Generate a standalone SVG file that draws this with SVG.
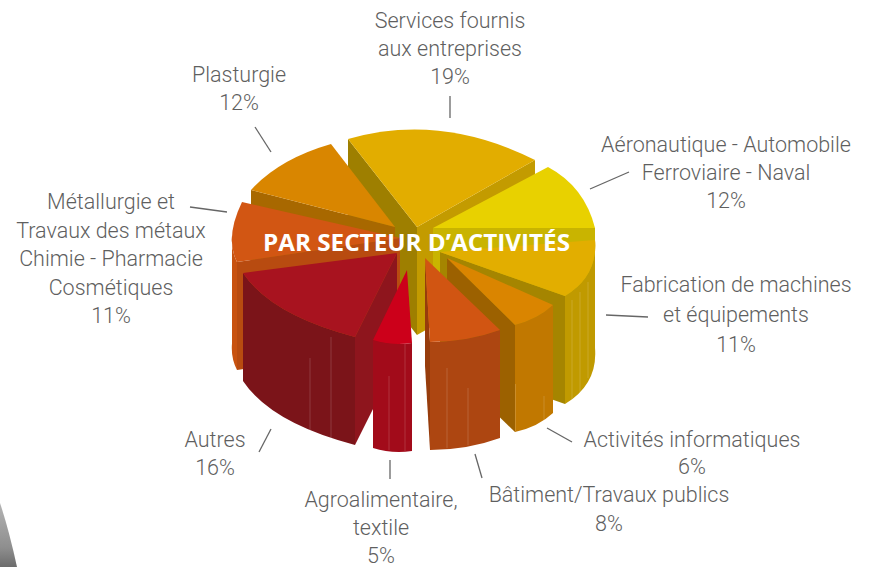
<svg xmlns="http://www.w3.org/2000/svg" width="871" height="567" viewBox="0 0 871 567">
<defs>
<linearGradient id="grey" x1="0" y1="0" x2="0" y2="1">
<stop offset="0" stop-color="#b4b4b4"/>
<stop offset="0.7" stop-color="#8e8e8e"/>
<stop offset="1" stop-color="#6c6c6c"/>
</linearGradient>
<style>
.lbl{font-family:Roboto,"Noto Sans","Liberation Sans",sans-serif;font-weight:300;font-size:21.5px;fill:#5f5f5f;text-anchor:middle}
.lead{stroke:#666;stroke-width:1.3;fill:none}
.str{stroke:#fff;stroke-opacity:0.16;stroke-width:1}
.title{font-family:"Open Sans","Liberation Sans",sans-serif;font-weight:700;font-size:24px;fill:#fff}
</style>
</defs>
<rect width="871" height="567" fill="#fff"/>
<path d="M0,503 Q9,530 17,567 L0,567 Z" fill="url(#grey)"/>

<g id="services">
<path d="M417,227 L535,160 L535,268 L417,335 Z" fill="#c39b00"/>
<path d="M348,139 L417,227 L417,335 L348,247 Z" fill="#9e7f00"/>
<path d="M417,227 L348,139 Q440.5,112.5 535,160 Z" fill="#e2ad00"/>
</g>
<g id="plasturgie">
<path d="M251,190 L395,227 L395,335 L251,298 Z" fill="#a86800"/>
<path d="M395,227 L251,190 Q279,159 331,144 Z" fill="#d98600"/>
</g>
<g id="aeronautique">
<path d="M433,228 L595,228 L595,336 L433,336 Z" fill="#c9b400"/>
<path d="M433,228 L548,167 Q584.5,186.5 595,228 Z" fill="#e8d100"/>
</g>
<g id="metallurgie">
<path d="M232,235.5 Q230.75,250 237,262 L237,370 Q230.75,358 232,343.5 Z" fill="#c85210"/>
<path d="M237,262 L400,238 L400,346 L237,370 Z" fill="#b84b10"/>
<path d="M400,238 L242,202 Q224.5,238 237,262 Z" fill="#d25613"/>
</g>
<g id="fabrication">
<path d="M440,252 L565,296 L565,404 L440,360 Z" fill="#a58500"/>
<path d="M595,240 Q598,276 565,296 L565,404 Q598,384 595,348 Z" fill="#c09a00"/>
<line class="str" x1="572" y1="300" x2="572" y2="400"/>
<line class="str" x1="580" y1="292" x2="580" y2="392"/>
<line class="str" x1="588" y1="282" x2="588" y2="378"/>
<path d="M440,252 L595,240 Q598,276 565,296 Z" fill="#e2ae00"/>
</g>
<g id="activites">
<path d="M447,258 L515,325 L515,432 L447,366 Z" fill="#9c6100"/>
<path d="M515,325 Q538,319 553,305 L553,413 Q538,427 515,432 Z" fill="#c17800"/>
<line class="str" x1="515.5" y1="384" x2="515.5" y2="431"/>
<line class="str" x1="544" y1="396" x2="544" y2="420"/>
<path d="M447,258 L553,305 Q538,319 515,325 Z" fill="#da8500"/>
</g>
<g id="autres">
<path d="M243,273 Q271,315 355,337 L355,445 Q271,423 243,381 Z" fill="#7b1419"/>
<line class="str" x1="310" y1="358" x2="310" y2="430"/>
<line class="str" x1="331" y1="337" x2="331" y2="438"/>
<path d="M397,253 L355,337 L355,445 L397,361 Z" fill="#8e151d"/>
<path d="M397,253 L243,273 Q271,315 355,337 Z" fill="#a8131f"/>
</g>
<g id="batiment">
<path d="M425,258 L430,342 L430,450 L425,366 Z" fill="#973c0c"/>
<path d="M430,342 Q467,342 500,330 L500,438 Q467,450 430,450 Z" fill="#ad4611"/>
<line class="str" x1="447" y1="368" x2="447" y2="448"/>
<line class="str" x1="468" y1="388" x2="468" y2="445"/>
<path d="M425,258 L500,330 Q467,342 430,342 Z" fill="#d15512"/>
</g>
<g id="agro">
<path d="M373,340 Q392,346 412,343 L412,451 Q392,454 373,448 Z" fill="#a20b1a"/>
<line class="str" x1="389" y1="376" x2="389" y2="450"/>
<line class="str" x1="405" y1="344" x2="405" y2="451"/>
<path d="M407,270 L373,340 Q392,346 412,343 Z" fill="#cc001a"/>
</g>

<text class="title" x="263" y="251" textLength="307" lengthAdjust="spacingAndGlyphs">PAR SECTEUR D’ACTIVITÉS</text>

<g id="connectors">
<line class="lead" x1="450" y1="96" x2="450" y2="118"/>
<line class="lead" x1="255" y1="127" x2="271" y2="152"/>
<line class="lead" x1="590" y1="189" x2="629" y2="172"/>
<line class="lead" x1="190" y1="207" x2="227" y2="212"/>
<line class="lead" x1="606" y1="315" x2="648" y2="317"/>
<line class="lead" x1="259" y1="452" x2="271" y2="429"/>
<line class="lead" x1="390" y1="460" x2="390" y2="479"/>
<line class="lead" x1="475" y1="454" x2="482" y2="478"/>
<line class="lead" x1="547" y1="428" x2="572" y2="442"/>
</g>

<g id="labels">
<text class="lbl" x="450" y="28">Services fournis</text>
<text class="lbl" x="450" y="56">aux entreprises</text>
<text class="lbl" x="450" y="84">19%</text>
<text class="lbl" x="239" y="82">Plasturgie</text>
<text class="lbl" x="239" y="110">12%</text>
<text class="lbl" x="726" y="152">Aéronautique - Automobile</text>
<text class="lbl" x="726" y="180">Ferroviaire - Naval</text>
<text class="lbl" x="726" y="208">12%</text>
<text class="lbl" x="111" y="209">Métallurgie et</text>
<text class="lbl" x="111" y="237.5">Travaux des métaux</text>
<text class="lbl" x="111" y="266">Chimie - Pharmacie</text>
<text class="lbl" x="111" y="294.5">Cosmétiques</text>
<text class="lbl" x="111" y="323">11%</text>
<text class="lbl" x="736" y="292">Fabrication de machines</text>
<text class="lbl" x="736" y="322">et équipements</text>
<text class="lbl" x="736" y="352">11%</text>
<text class="lbl" x="215" y="447">Autres</text>
<text class="lbl" x="215" y="475">16%</text>
<text class="lbl" x="381" y="507">Agroalimentaire,</text>
<text class="lbl" x="381" y="535">textile</text>
<text class="lbl" x="381" y="563">5%</text>
<text class="lbl" x="609" y="502">Bâtiment/Travaux publics</text>
<text class="lbl" x="609" y="531">8%</text>
<text class="lbl" x="692" y="447">Activités informatiques</text>
<text class="lbl" x="692" y="474">6%</text>
</g>
</svg>
